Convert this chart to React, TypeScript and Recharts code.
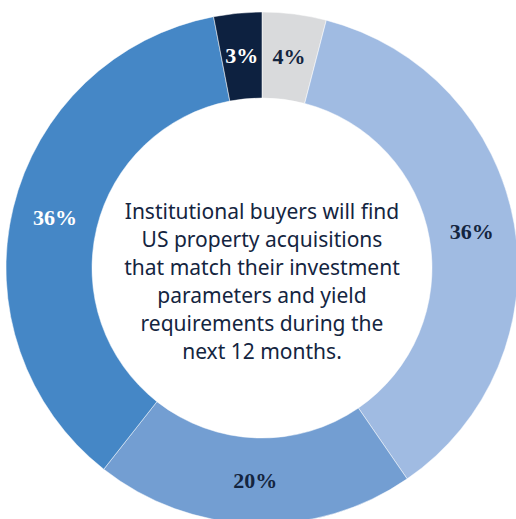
import React from "react";
import { PieChart, Pie, Cell } from "recharts";

const categories = ["A", "B", "C", "D", "E"];
const shares = [4, 36, 20, 36, 3];
const sliceColors = ["#d9dadc", "#a0bbe2", "#739ed2", "#4587c6", "#0d2140"];
const labelColors = ["#14253f", "#14253f", "#14253f", "#ffffff", "#ffffff"];
const centerLines = [
  "Institutional buyers will find",
  "US property acquisitions",
  "that match their investment",
  "parameters and yield",
  "requirements during the",
  "next 12 months.",
];

const data = categories.map((name, i) => ({ name, value: shares[i] }));

const RADIAN = Math.PI / 180;

const renderLabel = (props: any) => {
  const { cx, cy, midAngle, innerRadius, outerRadius, index, value } = props;
  const r = (innerRadius + outerRadius) / 2;
  const x = cx + r * Math.cos(-midAngle * RADIAN);
  const y = cy + r * Math.sin(-midAngle * RADIAN);
  return (
    <text
      x={x}
      y={y}
      fill={labelColors[index]}
      textAnchor="middle"
      dominantBaseline="central"
      style={{ fontFamily: "'Liberation Serif', serif", fontWeight: 700, fontSize: 22 }}
    >
      {`${value}%`}
    </text>
  );
};

export default function App() {
  return (
    <div style={{ position: "absolute", left: 0, top: 0, width: 516, height: 519, background: "#fff" }}>
      <PieChart width={516} height={519} margin={{ top: 0, right: 0, bottom: 0, left: 0 }}>
        <Pie
          data={data}
          dataKey="value"
          nameKey="name"
          cx={262}
          cy={268}
          innerRadius={170}
          outerRadius={256}
          startAngle={90}
          endAngle={-270}
          stroke="#ffffff"
          strokeWidth={0.5}
          label={renderLabel}
          labelLine={false}
          isAnimationActive={false}
        >
          {data.map((d, i) => (
            <Cell key={d.name} fill={sliceColors[i]} />
          ))}
        </Pie>
      </PieChart>
      <div
        style={{
          position: "absolute",
          left: 82,
          width: 360,
          top: 197,
          textAlign: "center",
          fontFamily: "'Noto Sans', sans-serif",
          fontSize: 21,
          lineHeight: "28px",
          color: "#14253f",
        }}
      >
        {centerLines.map((line) => (
          <div key={line}>{line}</div>
        ))}
      </div>
    </div>
  );
}
